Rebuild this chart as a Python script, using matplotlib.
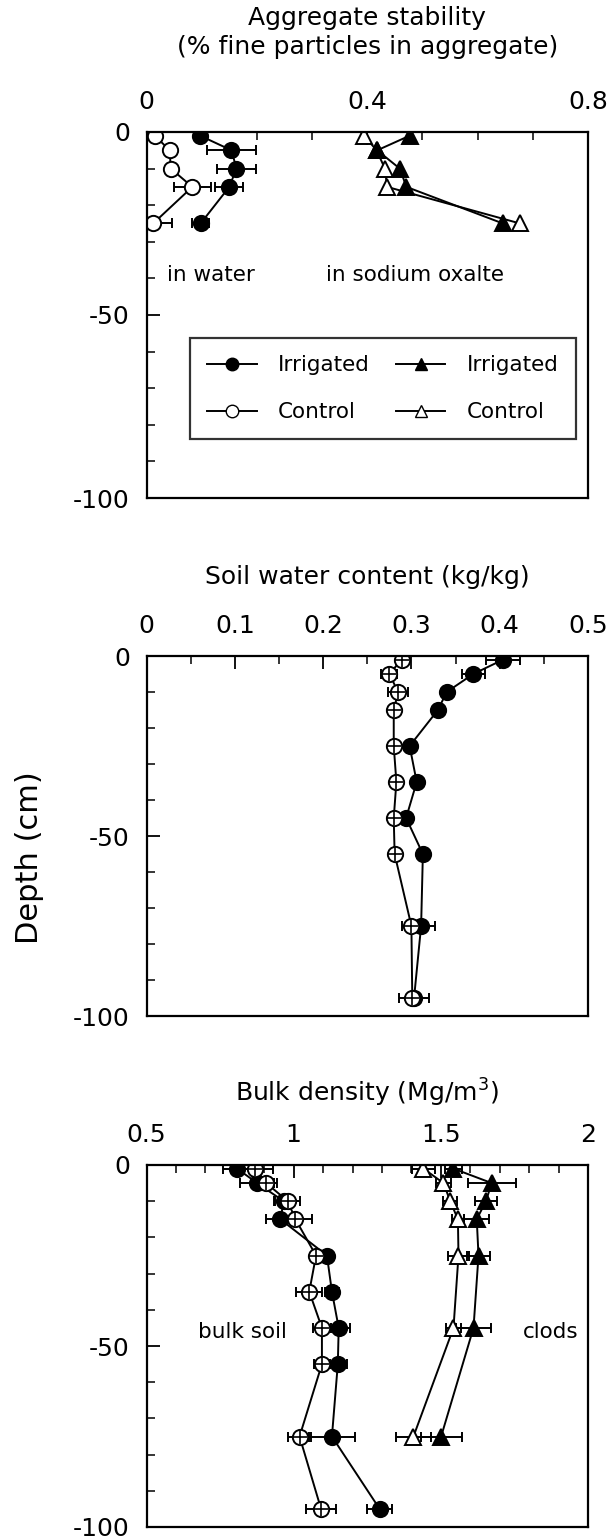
import matplotlib
matplotlib.use("Agg")
import matplotlib.pyplot as plt
from matplotlib.ticker import MultipleLocator
from matplotlib.lines import Line2D

plt.rcParams['font.family'] = ['DejaVu Sans']
plt.rcParams['axes.unicode_minus'] = False

# aggregate stability (top panel)
depth_as = [-1, -5, -10, -15, -25]
water_irr = [0.097, 0.154, 0.163, 0.150, 0.098]
water_irr_err = [0.004, 0.044, 0.035, 0.025, 0.015]
water_ctl = [0.015, 0.042, 0.044, 0.083, 0.012]
water_ctl_err = [0.004, 0.005, 0.005, 0.033, 0.034]
oxal_irr = [0.477, 0.418, 0.459, 0.471, 0.646]
oxal_ctl = [0.394, 0.417, 0.432, 0.436, 0.677]

# soil water content (middle panel)
depth_swc = [-1, -5, -10, -15, -25, -35, -45, -55, -75, -95]
swc_irr = [0.404, 0.370, 0.340, 0.330, 0.298, 0.306, 0.294, 0.313, 0.311, 0.303]
swc_irr_err = [0.019, 0.013, 0.004, 0.004, 0.004, 0.004, 0.004, 0.005, 0.016, 0.017]
swc_ctl = [0.289, 0.275, 0.285, 0.280, 0.280, 0.283, 0.280, 0.281, 0.300, 0.301]
swc_ctl_err = [0.006, 0.009, 0.011, 0.004, 0.004, 0.004, 0.004, 0.004, 0.011, 0.004]

# bulk density (bottom panel)
depth_bd = [-1, -5, -10, -15, -25, -35, -45, -55, -75, -95]
bd_irr = [0.808, 0.876, 0.966, 0.955, 1.113, 1.130, 1.153, 1.150, 1.130, 1.292]
bd_irr_err = [0.047, 0.057, 0.034, 0.048, 0.01, 0.025, 0.04, 0.03, 0.079, 0.042]
bd_ctl = [0.870, 0.907, 0.980, 1.006, 1.076, 1.053, 1.096, 1.096, 1.020, 1.093]
bd_ctl_err = [0.06, 0.036, 0.043, 0.056, 0.01, 0.044, 0.03, 0.028, 0.04, 0.05]
depth_clod = [-1, -5, -10, -15, -25, -45, -75]
clod_irr = [1.543, 1.673, 1.653, 1.622, 1.628, 1.611, 1.501]
clod_irr_err = [0.03, 0.082, 0.038, 0.042, 0.04, 0.06, 0.07]
clod_ctl = [1.441, 1.509, 1.532, 1.558, 1.560, 1.543, 1.407]
clod_ctl_err = [0.04, 0.025, 0.024, 0.02, 0.034, 0.024, 0.06]

W, H = 611, 1540
fig = plt.figure(figsize=(W / 100, H / 100), dpi=100)


def make_ax(top_px, bottom_px, xlim, major, minor):
    left, right = 146.5, 588
    ax = fig.add_axes([left / W, 1 - bottom_px / H, (right - left) / W, (bottom_px - top_px) / H])
    ax.set_xlim(*xlim)
    ax.set_ylim(-100, 0)
    ax.xaxis.set_major_locator(MultipleLocator(major))
    ax.xaxis.set_minor_locator(MultipleLocator(minor))
    ax.yaxis.set_major_locator(MultipleLocator(50))
    ax.yaxis.set_minor_locator(MultipleLocator(10))
    ax.tick_params(axis='x', which='both', direction='in', top=True, bottom=False,
                   labeltop=True, labelbottom=False, labelsize=18, pad=13)
    ax.tick_params(axis='y', which='both', direction='in', left=True, right=False,
                   labelsize=18, pad=12)
    ax.tick_params(which='major', length=9, width=1.3)
    ax.tick_params(which='minor', length=6, width=1.1)
    ax.xaxis.set_major_formatter(plt.FuncFormatter(lambda v, p: '%g' % v))
    for s in ax.spines.values():
        s.set_linewidth(1.6)
    return ax


def series(ax, x, y, xerr, marker, filled, plus=False):
    ax.errorbar(x, y, xerr=xerr, fmt='-' + marker, color='black', lw=1.4,
                ms=11, mfc='black' if filled else 'white',
                mec='black', mew=1.4, capsize=3.5, elinewidth=1.4, capthick=1.4)
    if plus:
        ax.plot(x, y, '+', color='black', ms=10, mew=1.2, ls='none', zorder=4)


# --- top panel
ax1 = make_ax(132, 498, (0, 0.8), 0.4, 0.1)
series(ax1, water_irr, depth_as, water_irr_err, 'o', True)
series(ax1, water_ctl, depth_as, water_ctl_err, 'o', False)
series(ax1, oxal_ctl, depth_as, None, '^', False)
series(ax1, oxal_irr, depth_as, None, '^', True)
ax1.text(0.117, -39, 'in water', fontsize=15.5, ha='center', va='center')
ax1.text(0.487, -39, 'in sodium oxalte', fontsize=15.5, ha='center', va='center')
handles = [
    Line2D([], [], color='black', lw=1.4, marker='o', ms=9, mfc='black', mec='black'),
    Line2D([], [], color='black', lw=1.4, marker='o', ms=9, mfc='white', mec='black'),
    Line2D([], [], color='black', lw=1.4, marker='^', ms=9, mfc='black', mec='black'),
    Line2D([], [], color='black', lw=1.4, marker='^', ms=9, mfc='white', mec='black'),
]
leg = ax1.legend(handles, ['Irrigated', 'Control', 'Irrigated', 'Control'], ncol=2,
                 loc='upper left', bbox_to_anchor=(0.098, 0.137, 0.875, 0.3), mode='expand',
                 fontsize=15.5, frameon=True, fancybox=False, edgecolor='black',
                 handlelength=2.3, handletextpad=1.0, columnspacing=1.0,
                 labelspacing=1.25, borderpad=0.8, borderaxespad=0)
leg.get_frame().set_linewidth(1.6)

# --- middle panel
ax2 = make_ax(656, 1016, (0, 0.5), 0.1, 0.05)
series(ax2, swc_irr, depth_swc, swc_irr_err, 'o', True)
series(ax2, swc_ctl, depth_swc, swc_ctl_err, 'o', False, plus=True)

# --- bottom panel
ax3 = make_ax(1165, 1527, (0.5, 2.0), 0.5, 0.1)
series(ax3, bd_irr, depth_bd, bd_irr_err, 'o', True)
series(ax3, bd_ctl, depth_bd, bd_ctl_err, 'o', False, plus=True)
series(ax3, clod_irr, depth_clod, clod_irr_err, '^', True)
series(ax3, clod_ctl, depth_clod, clod_ctl_err, '^', False)
ax3.text(0.826, -46, 'bulk soil', fontsize=15.5, ha='center', va='center')
ax3.text(1.874, -46, 'clods', fontsize=15.5, ha='center', va='center')

# titles
cx = (146.5 + 588) / 2 / W
fig.text(cx, 1 - 18 / H, 'Aggregate stability', fontsize=18, ha='center', va='center')
fig.text(cx, 1 - 47 / H, '(% fine particles in aggregate)', fontsize=18, ha='center', va='center')
fig.text(cx, 1 - 577 / H, 'Soil water content (kg/kg)', fontsize=18, ha='center', va='center')
fig.text(cx, 1 - 1093 / H, 'Bulk density (Mg/m$^3$)', fontsize=18, ha='center', va='center')
fig.text(30 / W, 1 - 858 / H, 'Depth (cm)', fontsize=22, rotation=90, ha='center', va='center')

fig.savefig('out.png', dpi=100)
